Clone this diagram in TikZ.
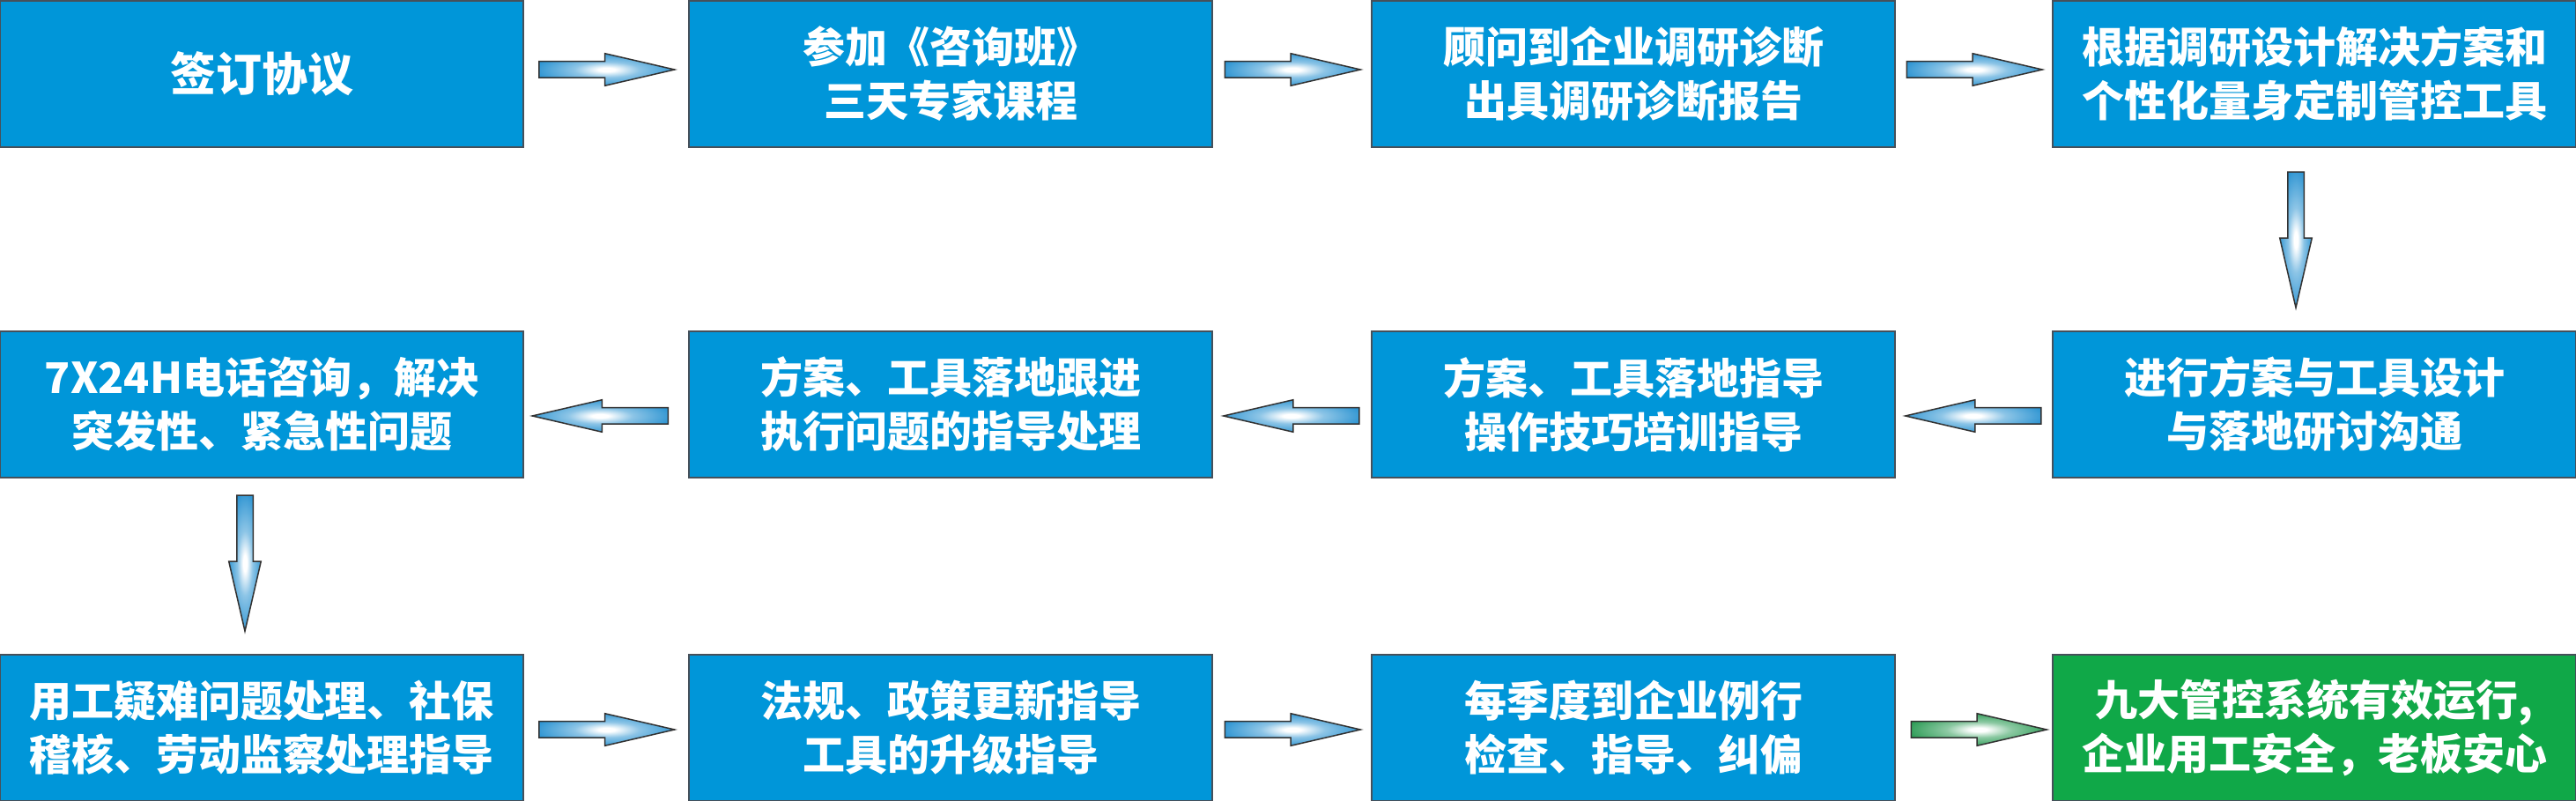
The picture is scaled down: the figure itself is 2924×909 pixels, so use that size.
\documentclass[tikz,border=0pt]{standalone}
\usepackage{fontspec}
\newfontfamily\cjk{Noto Sans CJK SC}[BoldFont={Noto Sans CJK SC Black}]
\usetikzlibrary{
    positioning,
    calc,
    shapes.arrows
}
\definecolor{boxblue}{RGB}{0,150,217}
\definecolor{boxgreen}{RGB}{16,168,72}
\definecolor{boxedge}{RGB}{70,80,90}
\definecolor{arrowblue}{RGB}{0,125,200}
\definecolor{arrowgreen}{RGB}{0,135,50}
\definecolor{arrowedge}{RGB}{50,50,50}
\pgfdeclareradialshading{blue glow}{\pgfpoint{0bp}{0bp}}{color(0bp)=(white); color(3bp)=(white); color(12bp)=(arrowblue!45!white); color(28bp)=(arrowblue!85!white); color(40bp)=(arrowblue); color(50bp)=(arrowblue)}
\pgfdeclareradialshading{green glow}{\pgfpoint{0bp}{0bp}}{color(0bp)=(white); color(3bp)=(white); color(12bp)=(arrowgreen!45!white); color(28bp)=(arrowgreen!85!white); color(40bp)=(arrowgreen); color(50bp)=(arrowgreen)}
\tikzset{
    % Boxes
    stepbox/.style={fill=boxblue,draw=boxedge,line width=1.5pt,text=white,align=center,
        minimum width=594pt,minimum height=166pt,inner sep=0pt},
    goal box/.style={stepbox,fill=boxgreen},
    %
    % Arrows (placed by their tail)
    block arrow/.style={single arrow,draw=arrowedge,line width=1.5pt,shade,shading=blue glow,
        minimum height=154pt,inner xsep=0pt,inner ysep=8.5pt,anchor=tail,
        single arrow head extend=9pt,single arrow tip angle=26,single arrow head indent=0pt},
    green arrow/.style={block arrow,shading=green glow},
    to left/.style={rotate=180},
    to down/.style={rotate=-90},
}
\tikzstyle{every node}=[font=\cjk\bfseries\fontsize{48}{61}\selectfont]

\begin{document}
\begin{tikzpicture}[x=1pt,y=1pt]
    \useasboundingbox (0,0) rectangle (2924,909);
    % first row
    \node[stepbox,font=\cjk\bfseries\fontsize{52}{61}\selectfont] (sign) at (297,825) {签订协议};
    \node[stepbox] (course) at (1079,825) {参加《咨询班》\\三天专家课程};
    \node[stepbox] (survey) at (1854,825) {顾问到企业调研诊断\\出具调研诊断报告};
    \node[stepbox] (plan) at (2627,825) {根据调研设计解决方案和\\个性化量身定制管控工具};
    % second row
    \node[stepbox] (design) at (2627,450) {进行方案与工具设计\\与落地研讨沟通};
    \node[stepbox] (guide) at (1854,450) {方案、工具落地指导\\操作技巧培训指导};
    \node[stepbox] (follow) at (1079,450) {方案、工具落地跟进\\执行问题的指导处理};
    \node[stepbox] (hotline) at (297,450) {7X24H电话咨询，解决\\突发性、紧急性问题};
    % third row
    \node[stepbox] (issues) at (297,83) {用工疑难问题处理、社保\\稽核、劳动监察处理指导};
    \node[stepbox] (update) at (1079,83) {法规、政策更新指导\\工具的升级指导};
    \node[stepbox] (visit) at (1854,83) {每季度到企业例行\\检查、指导、纠偏};
    \node[goal box] (result) at (2627,83) {九大管控系统有效运行,\\企业用工安全，老板安心};

    % arrows between the boxes
    \node[block arrow] (a1) at ($(sign.east)!.5!(course.west)+(-77,5)$) {};
    \node[block arrow] (a2) at ($(course.east)!.5!(survey.west)+(-77,5)$) {};
    \node[block arrow] (a3) at ($(survey.east)!.5!(plan.west)+(-77,5)$) {};
    \node[block arrow,to down] (a4) at ($(plan.south)!.5!(design.north)+(-21,77)$) {};
    \node[block arrow,to left] (a5) at ($(design.west)!.5!(guide.east)+(77,-13)$) {};
    \node[block arrow,to left] (a6) at ($(guide.west)!.5!(follow.east)+(77,-13)$) {};
    \node[block arrow,to left] (a7) at ($(follow.west)!.5!(hotline.east)+(71,-13)$) {};
    \node[block arrow,to down] (a8) at ($(hotline.south)!.5!(issues.north)+(-19,81)$) {};
    \node[block arrow] (a9) at ($(issues.east)!.5!(update.west)+(-77,-2)$) {};
    \node[block arrow] (a10) at ($(update.east)!.5!(visit.west)+(-77,-2)$) {};
    \node[green arrow] (a11) at ($(visit.east)!.5!(result.west)+(-72,-2)$) {};
\end{tikzpicture}
\end{document}
